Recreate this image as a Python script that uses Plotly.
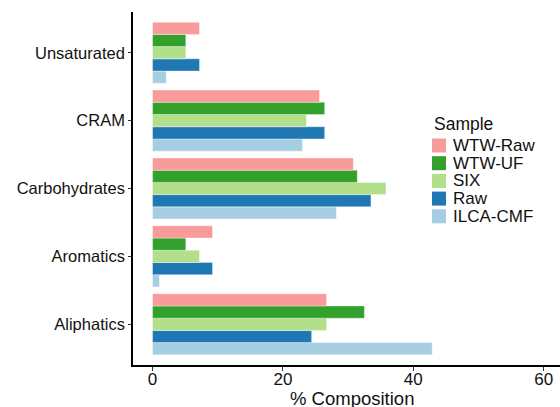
import plotly.graph_objects as go

# Compound classes (bottom to top on the y axis)
classes = ["Aliphatics", "Aromatics", "Carbohydrates", "CRAM", "Unsaturated"]

# Percent composition per sample, aligned with `classes`
wtw_raw = [26.7, 9.2, 30.8, 25.6, 7.2]
wtw_uf = [32.5, 5.1, 31.4, 26.4, 5.1]
six = [26.7, 7.2, 35.8, 23.6, 5.1]
raw = [24.4, 9.2, 33.5, 26.4, 7.2]
ilca_cmf = [42.9, 1.05, 28.2, 23.0, 2.1]

samples = ["WTW-Raw", "WTW-UF", "SIX", "Raw", "ILCA-CMF"]
series = [wtw_raw, wtw_uf, six, raw, ilca_cmf]
colors = ["#F89B9A", "#33A02C", "#B2DF8A", "#1F78B4", "#A6CEE3"]

x_ticks = [0, 20, 40, 60]

FONT = "Liberation Sans, Arial, sans-serif"
W, H = 560, 407
ML, MR, MT, MB = 133, 0, 12, 42

fig = go.Figure()
# Traces added in reverse so WTW-Raw sits on top within each group
for name, vals, col in reversed(list(zip(samples, series, colors))):
    fig.add_trace(go.Bar(
        y=classes, x=vals, name=name, orientation="h",
        marker=dict(color=col, line=dict(color="rgba(255,255,255,0.6)", width=0.6)),
        showlegend=False,
    ))

# Legend panel and x title placed in pixel space, converted to paper fractions
pw, ph = W - ML - MR, H - MT - MB
def px(x):
    return (x - ML) / pw
def py(y):
    return (H - MB - y) / ph

annotations = [
    dict(
        text="Sample", x=px(432), y=py(124), xref="paper", yref="paper",
        xanchor="left", yanchor="middle", showarrow=False,
        font=dict(family=FONT, size=17.5, color="#111"),
    ),
    dict(
        text="% Composition", x=px(352), y=py(398), xref="paper", yref="paper",
        xanchor="center", yanchor="middle", showarrow=False,
        font=dict(family=FONT, size=18.5, color="#111"),
    ),
]
shapes = []
y0, step = 145.5, 17.7
for i, (name, col) in enumerate(zip(samples, colors)):
    cy = y0 + i * step
    shapes.append(dict(
        type="rect", xref="paper", yref="paper",
        x0=px(432), x1=px(446), y0=py(cy + 7), y1=py(cy - 7),
        fillcolor=col, line=dict(width=0),
    ))
    annotations.append(dict(
        text=name, x=px(451), y=py(cy), xref="paper", yref="paper",
        xanchor="left", yanchor="middle", showarrow=False,
        font=dict(family=FONT, size=17, color="#111"),
    ))

fig.update_layout(
    width=W, height=H,
    margin=dict(l=ML, r=MR, t=MT, b=MB, autoexpand=False),
    paper_bgcolor="white", plot_bgcolor="white",
    barmode="group", bargap=0.1, bargroupgap=0,
    font=dict(family=FONT, size=16, color="#111"),
    shapes=shapes, annotations=annotations,
    xaxis=dict(
        range=[-3, 62.5], tickvals=x_ticks, ticktext=[str(t) for t in x_ticks],
        showgrid=False, zeroline=False,
        showline=True, linecolor="black", linewidth=1.6,
        ticks="outside", ticklen=4, tickcolor="#333", tickwidth=1,
        tickfont=dict(size=17, color="#111"), ticklabelstandoff=-6,
        automargin=False,
    ),
    yaxis=dict(
        categoryorder="array", categoryarray=classes, range=[-0.6, 4.6],
        showgrid=False, zeroline=False,
        showline=True, linecolor="black", linewidth=1.6,
        ticks="outside", ticklen=3, tickcolor="#333", tickwidth=1,
        tickfont=dict(size=16.5, color="#111"),
        automargin=False,
    ),
)

fig.write_html("out.html")
